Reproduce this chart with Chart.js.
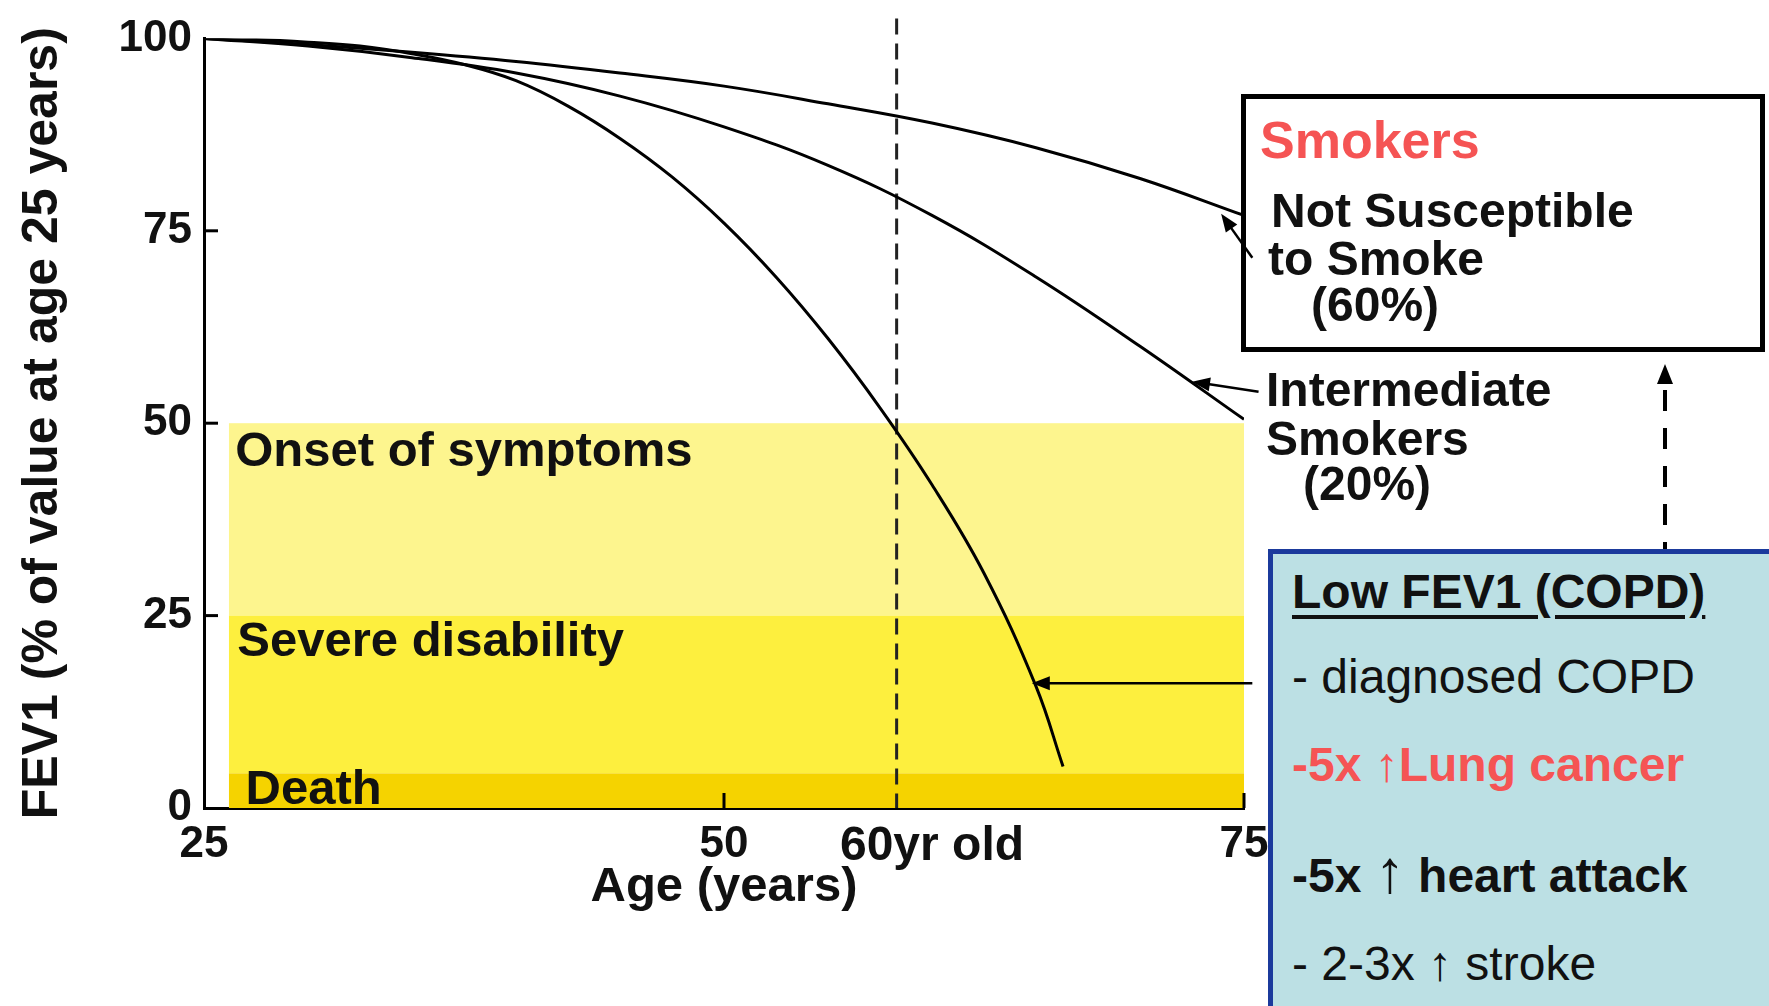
<!DOCTYPE html>
<html>
<head>
<meta charset="utf-8">
<title>FEV1 decline with age</title>
<script src="https://cdn.jsdelivr.net/npm/chart.js@4.4.1/dist/chart.umd.min.js"></script>
<style>
  body { margin: 0; background: #fff; width: 1769px; height: 1006px; overflow: hidden; position: relative;
         font-family: "Liberation Sans", Arial, sans-serif; }
  #fevChart { position: absolute; left: 0; top: 0; }
  .t { position: absolute; white-space: nowrap; line-height: 1; font-size: 48px; font-weight: bold; color: #111; }
  .reg { font-weight: normal; }
  .red { color: #f55454; }
  .up { font-weight: normal; line-height: 0; }
  #smokersBox { position: absolute; left: 1241px; top: 94px; width: 524px; height: 258px;
                border: 5px solid #000; box-sizing: border-box; }
  #copdBox { position: absolute; left: 1268px; top: 549px; width: 510px; height: 470px;
             border: 5px solid #1b3a9c; background: #bce0e4; box-sizing: border-box; }
  #upArrow { position: absolute; left: 1650px; top: 360px; }
</style>
</head>
<body>
<canvas id="fevChart" width="1769" height="1006"></canvas>

<div id="smokersBox"></div>
<div class="t red" style="left:1260px;top:114px;font-size:52px">Smokers</div>
<div class="t" style="left:1271px;top:187px">Not Susceptible</div>
<div class="t" style="left:1268px;top:235px">to Smoke</div>
<div class="t" style="left:1311px;top:281px">(60%)</div>

<div class="t" style="left:1266px;top:366px">Intermediate</div>
<div class="t" style="left:1266px;top:415px">Smokers</div>
<div class="t" style="left:1303px;top:460px">(20%)</div>

<svg id="upArrow" width="30" height="190">
  <polygon points="15,4 7,24 23,24" fill="#000"/>
  <line x1="15" y1="30" x2="15" y2="190" stroke="#000" stroke-width="4" stroke-dasharray="21 17"/>
</svg>

<div id="copdBox"></div>
<div class="t" style="left:1292px;top:568px;text-decoration:underline;text-decoration-thickness:4px;text-underline-offset:7px">Low FEV1 (COPD)</div>
<div class="t reg" style="left:1292px;top:653px">- diagnosed COPD</div>
<div class="t red" style="left:1292px;top:741px">-5x <span class="up">↑</span>Lung cancer</div>
<div class="t" style="left:1292px;top:852px">-5x <span class="up" style="font-size:60px">↑</span> heart attack</div>
<div class="t reg" style="left:1292px;top:940px">- 2-3x ↑ stroke</div>

<script>
// FEV1 (% of value at age 25) against age, three smoker groups
const notSusAges = [25, 30, 35, 40, 45, 50, 55, 60, 65, 70, 75];
const notSusValues = [100, 99.2, 98.2, 97, 95.5, 93.8, 91.5, 89, 85.8, 81.8, 77];

const interAges = [25, 30, 35, 40, 45, 50, 55, 60, 65, 70, 75];
const interValues = [100, 99, 97.5, 95.5, 92.5, 88.5, 83.5, 77, 69, 60, 50.5];

const suscAges = [25, 27.5, 30, 32.5, 35, 37.5, 40, 42.5, 45, 47.5, 50, 52.5, 55, 57.5, 60, 62.5, 65, 66.3];
const suscValues = [100, 99.85, 99.5, 99, 98, 96.6, 94.5, 91.2, 87, 82, 76, 69, 61, 52, 42, 30.5, 15.8, 5.4];

// axis ticks
const xTickValues = [25, 50, 60, 75];
const xTickLabels = ['25', '50', '60yr old', '75'];
const yTickValues = [0, 25, 50, 75, 100];
const xTickMarks = [50, 75];
const yTickMarks = [25, 50, 75];

// symptom zones (FEV1 ranges)
const zoneNames = ['Onset of symptoms', 'Severe disability', 'Death'];
const zoneTops = [50, 25, 4.5];
const zoneBottoms = [25, 4.5, 0];
const zoneColors = ['#fdf58e', '#fdef3e', '#f5d300'];
const zoneStartAge = 26.2;
const zoneLabelAges = [26.5, 26.6, 27.0];
const zoneLabelDrop = [43, 40, 31];

// 60 year marker and annotation arrows (age, FEV1)
const markerAge = 58.3;
const arrowTails = [[75.4, 71.5], [75.7, 54.1], [75.4, 16.2]];
const arrowTips = [[73.9, 77.2], [72.5, 55.4], [64.8, 16.2]];

const FONT = '"Liberation Sans", Arial, sans-serif';
const toPoints = (ages, vals) => ages.map((a, i) => ({ x: a, y: vals[i] }));

function drawArrow(ctx, x0, y0, x1, y1) {
  const ang = Math.atan2(y1 - y0, x1 - x0);
  const len = 18, half = 7;
  ctx.beginPath();
  ctx.moveTo(x0, y0);
  ctx.lineTo(x1 - Math.cos(ang) * len * 0.8, y1 - Math.sin(ang) * len * 0.8);
  ctx.stroke();
  ctx.beginPath();
  ctx.moveTo(x1, y1);
  ctx.lineTo(x1 - Math.cos(ang) * len - Math.sin(ang) * half, y1 - Math.sin(ang) * len + Math.cos(ang) * half);
  ctx.lineTo(x1 - Math.cos(ang) * len + Math.sin(ang) * half, y1 - Math.sin(ang) * len - Math.cos(ang) * half);
  ctx.closePath();
  ctx.fill();
}

const fevDecor = {
  id: 'fevDecor',
  beforeDatasetsDraw(chart) {
    const { ctx, scales: { x, y } } = chart;
    ctx.save();
    const xl = x.getPixelForValue(zoneStartAge), xr = x.getPixelForValue(75);
    zoneTops.forEach((top, i) => {
      const yt = y.getPixelForValue(top), yb = y.getPixelForValue(zoneBottoms[i]);
      ctx.fillStyle = zoneColors[i];
      ctx.fillRect(xl, yt, xr - xl, yb - yt);
    });
    ctx.fillStyle = '#111';
    ctx.font = 'bold 49px ' + FONT;
    ctx.textBaseline = 'alphabetic';
    zoneNames.forEach((name, i) => {
      ctx.fillText(name, x.getPixelForValue(zoneLabelAges[i]), y.getPixelForValue(zoneTops[i]) + zoneLabelDrop[i]);
    });
    // dashed 60 yr marker
    const mx = x.getPixelForValue(markerAge);
    ctx.strokeStyle = '#222';
    ctx.lineWidth = 3;
    ctx.setLineDash([16, 9]);
    ctx.beginPath();
    ctx.moveTo(mx, y.getPixelForValue(102.6));
    ctx.lineTo(mx, y.getPixelForValue(0));
    ctx.stroke();
    ctx.restore();
  },
  afterDatasetsDraw(chart) {
    const { ctx, scales: { x, y } } = chart;
    ctx.save();
    ctx.strokeStyle = '#000';
    ctx.fillStyle = '#000';
    ctx.lineWidth = 2.5;
    arrowTips.forEach((tip, i) => {
      const tail = arrowTails[i];
      drawArrow(ctx, x.getPixelForValue(tail[0]), y.getPixelForValue(tail[1]),
                x.getPixelForValue(tip[0]), y.getPixelForValue(tip[1]));
    });
    // inward tick marks
    ctx.lineWidth = 3;
    const x0 = x.getPixelForValue(25), y0 = y.getPixelForValue(0);
    yTickMarks.forEach(v => {
      const py = y.getPixelForValue(v);
      ctx.beginPath(); ctx.moveTo(x0, py); ctx.lineTo(x0 + 14, py); ctx.stroke();
    });
    xTickMarks.forEach(v => {
      const px = x.getPixelForValue(v);
      ctx.beginPath(); ctx.moveTo(px, y0); ctx.lineTo(px, y0 - 15); ctx.stroke();
    });
    ctx.restore();
  }
};

const lineStyle = { borderColor: '#000', borderWidth: 3, pointRadius: 0, tension: 0.4, fill: false };

new Chart(document.getElementById('fevChart'), {
  type: 'line',
  data: {
    datasets: [
      { label: 'Not Susceptible to Smoke', data: toPoints(notSusAges, notSusValues), ...lineStyle },
      { label: 'Intermediate Smokers', data: toPoints(interAges, interValues), ...lineStyle },
      { label: 'Susceptible Smokers', data: toPoints(suscAges, suscValues), ...lineStyle }
    ]
  },
  options: {
    responsive: false,
    animation: false,
    devicePixelRatio: 1,
    layout: { padding: { left: 0, top: 30, right: 525, bottom: 0 } },
    plugins: { legend: { display: false }, tooltip: { enabled: false } },
    scales: {
      x: {
        type: 'linear', min: 25, max: 75, z: 1,
        grid: { display: false, drawTicks: false },
        border: { display: true, color: '#000', width: 3 },
        afterBuildTicks: s => { s.ticks = xTickValues.map(v => ({ value: v })); },
        afterFit: s => { s.height = 198; },
        ticks: {
          autoSkip: false, maxRotation: 0, padding: 10, color: '#111',
          font: ctx => ({ family: FONT, weight: 'bold', size: ctx.index === 2 ? 48 : 44 }),
          callback: (v, i) => xTickLabels[i]
        },
        title: {
          display: true, text: 'Age (years)', color: '#111', padding: { top: 0, bottom: 89 },
          font: { family: FONT, size: 49, weight: 'bold' }
        }
      },
      y: {
        type: 'linear', min: 0, max: 100, z: 1,
        grid: { display: false, drawTicks: false },
        border: { display: true, color: '#000', width: 3 },
        afterBuildTicks: s => { s.ticks = yTickValues.map(v => ({ value: v })); },
        afterFit: s => { s.width = 204; },
        ticks: {
          padding: 12, color: '#111',
          font: { family: FONT, size: 44, weight: 'bold' }
        },
        title: {
          display: true, text: 'FEV1 (% of value at age 25 years)', color: '#111', padding: { top: 13, bottom: 0 },
          font: { family: FONT, size: 50, weight: 'bold' }
        }
      }
    }
  },
  plugins: [fevDecor]
});
</script>
</body>
</html>
